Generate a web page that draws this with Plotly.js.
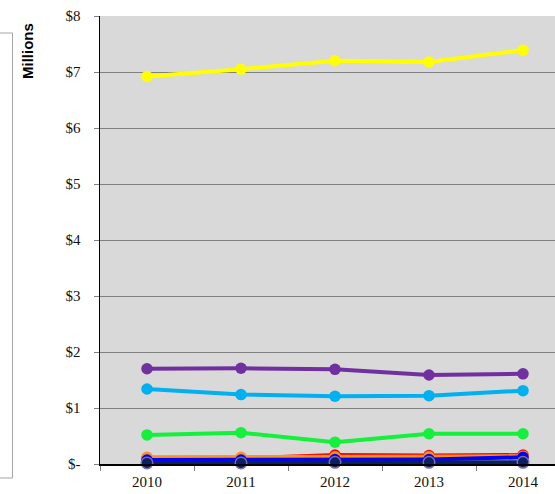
<!DOCTYPE html>
<html>
<head>
<meta charset="utf-8">
<script src="https://cdn.plot.ly/plotly-3.0.1.min.js"></script>
<style>
  html, body { margin: 0; padding: 0; width: 555px; height: 494px; overflow: hidden; background: #fff; }
  #chart { width: 575px; height: 494px; }
</style>
</head>
<body>
<div id="chart"></div>
<script>
// Years on the category axis
const years = ['2010', '2011', '2012', '2013', '2014'];

// Annual amounts, in millions of dollars
const seriesA = [6.92, 7.05, 7.20, 7.18, 7.39];
const seriesB = [1.70, 1.71, 1.69, 1.59, 1.61];
const seriesC = [1.34, 1.24, 1.21, 1.22, 1.31];
const seriesD = [0.52, 0.56, 0.39, 0.54, 0.54];
const seriesE = [0.10, 0.10, 0.16, 0.15, 0.16];
const seriesF = [0.12, 0.12, 0.13, 0.13, 0.14];
const seriesG = [0.07, 0.07, 0.08, 0.08, 0.12];
const seriesH = [0.02, 0.02, 0.03, 0.03, 0.03];

// Value-axis ticks
const yTickVals = [0, 1, 2, 3, 4, 5, 6, 7, 8];
const yTickText = ['$-', '$1', '$2', '$3', '$4', '$5', '$6', '$7', '$8'];

function line(y, color, markerBorder) {
  return {
    type: 'scatter', mode: 'lines+markers', x: years, y: y,
    line: { color: color, width: 4 },
    marker: { color: color, size: 11.5, line: { color: markerBorder || color, width: markerBorder ? 1.5 : 0 } },
    showlegend: false, hoverinfo: 'skip', cliponaxis: false
  };
}

const traces = [
  line(seriesA, '#FFFF00'),
  line(seriesB, '#7030A0'),
  line(seriesC, '#00B0F0'),
  line(seriesD, '#14F03C'),
  line(seriesE, '#FF0000'),
  line(seriesF, '#FF9218'),
  line(seriesG, '#0000FF'),
  line(seriesH, '#0A2060', '#7F6BA8')
];

const L = 100, R = 5, T = 16, B = 30, W = 575, H = 494;
const pw = W - L - R, ph = H - T - B;
const px = v => (v - L) / pw;          // pixel x -> paper x
const py = v => (H - B - v) / ph;      // pixel y -> paper y

const layout = {
  width: W, height: H,
  margin: { l: L, r: R, t: T, b: B, pad: 0 },
  paper_bgcolor: '#ffffff',
  plot_bgcolor: '#D9D9D9',
  font: { family: '"Liberation Serif", "Times New Roman", serif', color: '#000', size: 15 },
  xaxis: {
    type: 'category', categoryorder: 'array', categoryarray: years,
    range: [-0.5, 4.5], fixedrange: true,
    showgrid: false, zeroline: false,
    showline: true, linecolor: '#000', linewidth: 1.5,
    ticks: 'outside', tickson: 'boundaries', ticklen: 5, tickcolor: '#808080', tickwidth: 1,
    ticklabelstandoff: 3,
    tickfont: { size: 15, color: '#111' }
  },
  yaxis: {
    range: [0, 8], fixedrange: true,
    tickvals: yTickVals, ticktext: yTickText,
    showgrid: true, gridcolor: '#808080', gridwidth: 1,
    zeroline: false,
    showline: true, linecolor: '#000', linewidth: 1.5,
    ticks: 'outside', ticklen: 5, tickcolor: '#808080', tickwidth: 1,
    ticklabelstandoff: 10,
    tickfont: { size: 15, color: '#111' }
  },
  shapes: [
    {
      type: 'rect', xref: 'paper', yref: 'paper',
      x0: px(-5), x1: px(12.5), y0: py(478), y1: py(33),
      line: { color: '#A6A6A6', width: 1 }, fillcolor: 'rgba(0,0,0,0)', layer: 'above'
    }
  ],
  annotations: [
    {
      text: '<b>Millions</b>', xref: 'paper', yref: 'paper',
      x: px(27), y: py(51), xanchor: 'center', yanchor: 'middle',
      textangle: -90, showarrow: false,
      font: { family: '"Liberation Sans", Arial, sans-serif', size: 15, color: '#000' }
    }
  ]
};

Plotly.newPlot('chart', traces, layout, { displayModeBar: false, staticPlot: true });
</script>
</body>
</html>
